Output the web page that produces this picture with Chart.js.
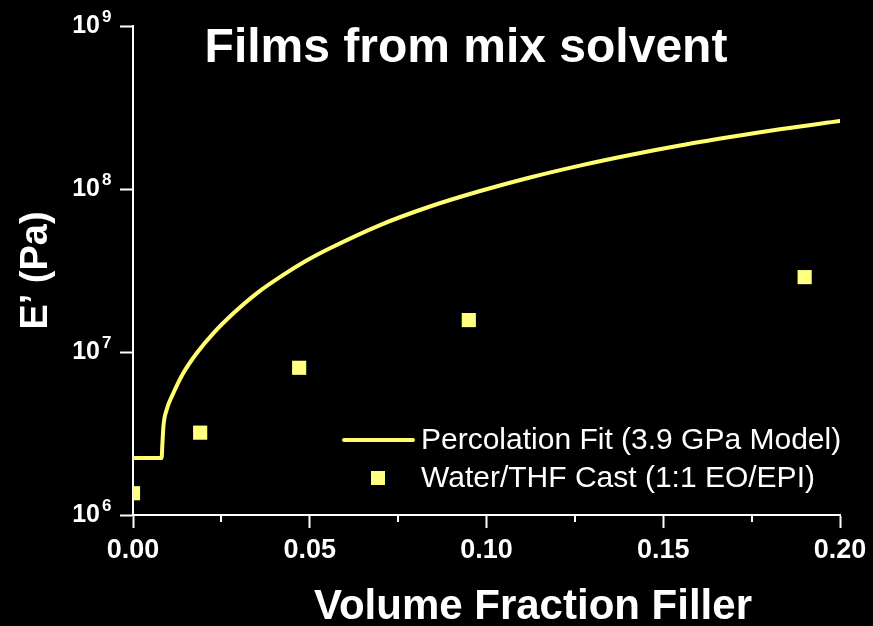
<!DOCTYPE html>
<html>
<head>
<meta charset="utf-8">
<script src="https://cdn.jsdelivr.net/npm/chart.js@4.4.1/dist/chart.umd.min.js"></script>
<style>
html,body{margin:0;padding:0;background:#000;}
#wrap{width:873px;height:626px;}
</style>
</head>
<body>
<div id="wrap"><canvas id="c" width="873" height="626"></canvas></div>
<script>
// ---- data ----
const chartTitle = "Films from mix solvent";
const xTitle = "Volume Fraction Filler";
const yTitle = "E\u2019 (Pa)";
const fitLabel = "Percolation Fit (3.9 GPa Model)";
const dataLabel = "Water/THF Cast (1:1 EO/EPI)";

const fitX = [0.0003, 0.0081, 0.0083, 0.0086, 0.0095, 0.0114, 0.0142, 0.0180, 0.0227, 0.0284, 0.0350, 0.0425, 0.0491, 0.0557, 0.0699, 0.0840, 0.0982, 0.1123, 0.1264, 0.1406, 0.1547, 0.1689, 0.1830, 0.2000];
const fitY = [2.24e6, 2.24e6, 2.69e6, 3.48e6, 4.41e6, 5.58e6, 7.40e6, 9.82e6, 1.302e7, 1.728e7, 2.291e7, 2.97e7, 3.64e7, 4.33e7, 6.01e7, 7.81e7, 9.72e7, 1.177e8, 1.392e8, 1.617e8, 1.849e8, 2.084e8, 2.328e8, 2.614e8];

const ptX = [0.0, 0.019, 0.047, 0.095, 0.190];
const ptY = [1.36e6, 3.2e6, 8.0e6, 1.57e7, 2.88e7];

const yTicks = [1e6, 1e7, 1e8, 1e9];
const yExponents = ["6", "7", "8", "9"];
const xMajorStep = 0.05;
const xMinorTicks = [0.025, 0.075, 0.125, 0.175];

const FONT = "'Liberation Sans', Arial, sans-serif";
const lineColor = "#ffff70";
const pointColor = "#ffff80";

const bgPlugin = {
  id: 'bg',
  beforeDraw(chart) {
    const ctx = chart.ctx;
    ctx.save();
    ctx.fillStyle = '#000';
    ctx.fillRect(0, 0, chart.width, chart.height);
    ctx.restore();
  }
};

const decorPlugin = {
  id: 'decor',
  afterDraw(chart) {
    const ctx = chart.ctx;
    const ca = chart.chartArea;
    const xs = chart.scales.x, ys = chart.scales.y;
    ctx.save();
    // minor x ticks
    ctx.strokeStyle = '#fff';
    ctx.lineWidth = 2;
    xMinorTicks.forEach(v => {
      const px = Math.round(xs.getPixelForValue(v));
      ctx.beginPath();
      ctx.moveTo(px, ca.bottom);
      ctx.lineTo(px, ca.bottom + 7);
      ctx.stroke();
    });
    // exponents of y tick labels
    ctx.fillStyle = '#fff';
    ctx.font = "bold 17px " + FONT;
    ctx.textAlign = 'left';
    ctx.textBaseline = 'alphabetic';
    yTicks.forEach((v, i) => {
      const py = ys.getPixelForValue(v);
      ctx.fillText(yExponents[i], 102, py - 4);
    });
    // chart title
    ctx.font = "bold 48px " + FONT;
    ctx.textAlign = 'center';
    ctx.textBaseline = 'alphabetic';
    ctx.fillText(chartTitle, 466, 62);
    // x axis title
    ctx.font = "bold 42px " + FONT;
    ctx.fillText(xTitle, 533, 619);
    // legend
    ctx.textAlign = 'left';
    ctx.textBaseline = 'middle';
    ctx.font = "30px " + FONT;
    ctx.strokeStyle = lineColor;
    ctx.lineWidth = 4;
    ctx.lineCap = 'round';
    ctx.beginPath();
    ctx.moveTo(344, 440);
    ctx.lineTo(413, 440);
    ctx.stroke();
    ctx.fillStyle = '#fff';
    ctx.fillText(fitLabel, 421, 441);
    ctx.fillStyle = pointColor;
    ctx.fillRect(371, 471, 14, 14);
    ctx.fillStyle = '#fff';
    ctx.fillText(dataLabel, 421, 479);
    ctx.restore();
  }
};

new Chart(document.getElementById('c'), {
  type: 'scatter',
  data: {
    datasets: [
      {
        label: fitLabel,
        data: fitX.map((x, i) => ({x: x, y: fitY[i]})),
        showLine: true,
        borderColor: lineColor,
        backgroundColor: lineColor,
        borderWidth: 4,
        borderCapStyle: 'round',
        borderJoinStyle: 'round',
        cubicInterpolationMode: 'monotone',
        pointRadius: 0,
        pointHoverRadius: 0,
        order: 1
      },
      {
        label: dataLabel,
        data: ptX.map((x, i) => ({x: x, y: ptY[i]})),
        showLine: false,
        pointStyle: 'rect',
        pointRadius: 10,
        pointBorderWidth: 0,
        backgroundColor: pointColor,
        borderColor: pointColor,
        clip: {left: 0, top: false, right: false, bottom: false},
        order: 0
      }
    ]
  },
  options: {
    responsive: false,
    animation: false,
    events: [],
    layout: { padding: { left: 0, top: 26, right: 33, bottom: 0 } },
    plugins: {
      legend: { display: false },
      tooltip: { enabled: false },
      title: { display: false }
    },
    scales: {
      x: {
        type: 'linear',
        min: 0,
        max: 0.2,
        afterFit: s => { s.height = 111; s.paddingLeft = 0; s.paddingRight = 0; },
        afterBuildTicks: s => {
          const t = [];
          for (let v = 0; v <= 0.2 + 1e-9; v += xMajorStep) t.push({value: +v.toFixed(3)});
          s.ticks = t;
        },
        ticks: {
          color: '#fff',
          font: { family: FONT, size: 27, weight: 'bold' },
          padding: 6,
          maxRotation: 0,
          callback: v => Number(v).toFixed(2)
        },
        grid: {
          drawOnChartArea: false,
          drawTicks: true,
          tickLength: 13,
          tickColor: '#fff',
          tickWidth: 2
        },
        border: { display: true, color: '#fff', width: 2 }
      },
      y: {
        type: 'logarithmic',
        min: 1e6,
        max: 1e9,
        afterFit: s => { s.width = 133; s.paddingTop = 0; s.paddingBottom = 0; },
        afterBuildTicks: s => { s.ticks = yTicks.map(v => ({value: v})); },
        ticks: {
          color: '#fff',
          font: { family: FONT, size: 25, weight: 'bold' },
          padding: 20,
          callback: () => '10'
        },
        grid: {
          drawOnChartArea: false,
          drawTicks: true,
          tickLength: 13,
          tickColor: '#fff',
          tickWidth: 2
        },
        border: { display: true, color: '#fff', width: 2 },
        title: {
          display: true,
          text: yTitle,
          color: '#fff',
          font: { family: FONT, size: 38, weight: 'bold' },
          padding: { top: 14, bottom: 0 }
        }
      }
    }
  },
  plugins: [bgPlugin, decorPlugin]
});
</script>
</body>
</html>
